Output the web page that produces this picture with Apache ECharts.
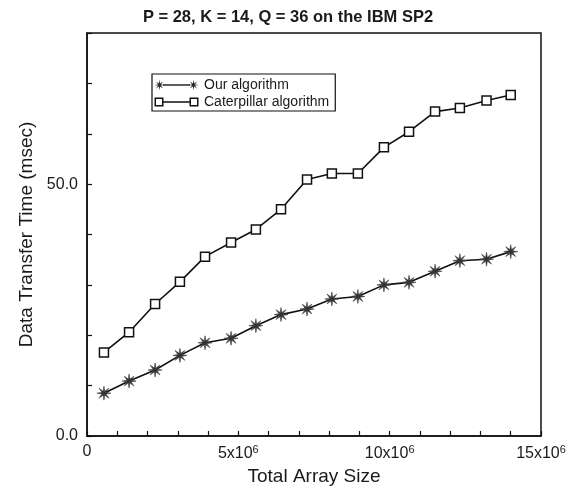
<!DOCTYPE html>
<html>
<head>
<meta charset="utf-8">
<script src="https://cdn.jsdelivr.net/npm/echarts@6/dist/echarts.min.js"></script>
<style>
html,body{margin:0;padding:0;background:#fff;}
#chart{width:576px;height:500px;}
</style>
</head>
<body>
<div id="chart"></div>
<script>
// Total array size, in units of 10^6
const arraySizes = [0.56, 1.39, 2.25, 3.07, 3.90, 4.76, 5.58, 6.41, 7.27, 8.09, 8.95, 9.81, 10.64, 11.50, 12.32, 13.20, 14.00];
// Data transfer time (msec)
const ourAlgorithm = [8.5, 10.9, 13.1, 16.0, 18.5, 19.4, 21.9, 24.1, 25.2, 27.2, 27.7, 30.0, 30.5, 32.7, 34.8, 35.1, 36.6];
const caterpillarAlgorithm = [16.6, 20.6, 26.2, 30.6, 35.6, 38.4, 41.0, 45.0, 50.9, 52.1, 52.1, 57.3, 60.4, 64.4, 65.1, 66.6, 67.7];
const seriesNames = ['Our algorithm', 'Caterpillar algorithm'];
const xTickLabels = {0: '0', 5: '5x10^6', 10: '10x10^6', 15: '15x10^6'};
const yTickLabels = {0: '0.0', 50: '50.0'};

const FONT = '"Liberation Sans", Arial, Helvetica, sans-serif';
const asterisk = 'path://M20,10 L12.9,11.2 L17.07,17.07 L11.2,12.9 L10,20 L8.8,12.9 L2.93,17.07 L7.1,11.2 L0,10 L7.1,8.8 L2.93,2.93 L8.8,7.1 L10,0 L11.2,7.1 L17.07,2.93 L12.9,8.8 Z';
const legendAst = 'path://M11,5.5 L6.95,6.1 L9.1,9.1 L6.1,6.95 L5.5,11 L4.9,6.95 L1.9,9.1 L4.05,6.1 L0,5.5 L4.05,4.9 L1.9,1.9 L4.9,4.05 L5.5,0 L6.1,4.05 L9.1,1.9 L6.95,4.9 Z M9,4.7 L36,4.7 L36,6.3 L9,6.3 Z M45,5.5 L40.95,6.1 L43.1,9.1 L40.1,6.95 L39.5,11 L38.9,6.95 L35.9,9.1 L38.05,6.1 L34,5.5 L38.05,4.9 L35.9,1.9 L38.9,4.05 L39.5,0 L40.1,4.05 L43.1,1.9 L40.95,4.9 Z';
const legendSq = 'path://M0.5,1 L9.5,1 L9.5,10 L0.5,10 Z M2,2.5 L2,8.5 L8,8.5 L8,2.5 Z M9.5,4.8 L35.5,4.8 L35.5,6.2 L9.5,6.2 Z M35.5,1 L44.5,1 L44.5,10 L35.5,10 Z M37,2.5 L37,8.5 L43,8.5 L43,2.5 Z M0,0 L0.01,0 L0.01,0.01 Z M45,11 L44.99,11 L44.99,10.99 Z';

const chart = echarts.init(document.getElementById('chart'), null, {renderer: 'canvas'});
chart.setOption({
  backgroundColor: '#fff',
  animation: false,
  title: {
    text: 'P = 28, K = 14, Q = 36 on the IBM SP2',
    left: 'center', top: 4,
    textStyle: {fontFamily: FONT, fontSize: 16.5, fontWeight: 'bold', color: '#1a1a1a'}
  },
  legend: {
    orient: 'vertical', left: 152, top: 74,
    padding: [4, 6, 2, 2],
    borderColor: '#111', borderWidth: 1.2,
    itemWidth: 45, itemHeight: 11, itemGap: 3,
    selectedMode: false,
    textStyle: {fontFamily: FONT, fontSize: 14, color: '#1a1a1a', lineHeight: 14},
    data: [
      {name: seriesNames[0], icon: legendAst, itemStyle: {color: '#2a2a2a', borderWidth: 0}},
      {name: seriesNames[1], icon: legendSq, itemStyle: {color: '#111', borderWidth: 0}}
    ]
  },
  grid: {left: 87, right: 35, top: 33, bottom: 64, show: true, borderColor: '#111', borderWidth: 1.5, backgroundColor: 'transparent'},
  xAxis: {
    type: 'value', min: 0, max: 15, interval: 1,
    name: 'Total Array Size', nameLocation: 'middle', nameGap: 30,
    nameTextStyle: {fontFamily: FONT, fontSize: 19, color: '#1a1a1a'},
    axisLine: {lineStyle: {color: '#111', width: 1.5}},
    axisTick: {inside: true, length: 5, lineStyle: {color: '#111', width: 1.2}},
    splitLine: {show: false},
    axisLabel: {
      margin: 8,
      fontFamily: FONT, fontSize: 16, color: '#1a1a1a',
      formatter: function (v) {
        const t = xTickLabels[v];
        if (t === undefined) return '';
        if (t.indexOf('^') < 0) return t;
        const p = t.split('^');
        return '{b|' + p[0] + '}{s|' + p[1] + '}';
      },
      rich: {
        b: {fontFamily: FONT, fontSize: 16, color: '#1a1a1a'},
        s: {fontFamily: FONT, fontSize: 11, color: '#1a1a1a', padding: [0, 0, 9, 0]}
      }
    }
  },
  yAxis: {
    type: 'value', min: 0, max: 80, interval: 10,
    name: 'Data Transfer Time (msec)', nameLocation: 'middle', nameGap: 50,
    nameTextStyle: {fontFamily: FONT, fontSize: 19, color: '#1a1a1a'},
    axisLine: {show: true, lineStyle: {color: '#111', width: 1.5}},
    axisTick: {show: true, inside: true, length: 5, lineStyle: {color: '#111', width: 1.2}},
    splitLine: {show: false},
    axisLabel: {
      margin: 9, fontFamily: FONT, fontSize: 16, color: '#1a1a1a',
      formatter: function (v) { return yTickLabels[v] !== undefined ? yTickLabels[v] : ''; }
    }
  },
  series: [
    {
      name: seriesNames[0], type: 'line',
      data: arraySizes.map((x, i) => [x, ourAlgorithm[i]]),
      symbol: asterisk, symbolSize: 14,
      lineStyle: {color: '#111', width: 1.6},
      itemStyle: {color: '#333', borderColor: '#444', borderWidth: 0.6}
    },
    {
      name: seriesNames[1], type: 'line',
      data: arraySizes.map((x, i) => [x, caterpillarAlgorithm[i]]),
      symbol: 'rect', symbolSize: 9,
      lineStyle: {color: '#111', width: 1.6},
      itemStyle: {color: '#fff', borderColor: '#111', borderWidth: 1.5}
    }
  ]
});
</script>
</body>
</html>
